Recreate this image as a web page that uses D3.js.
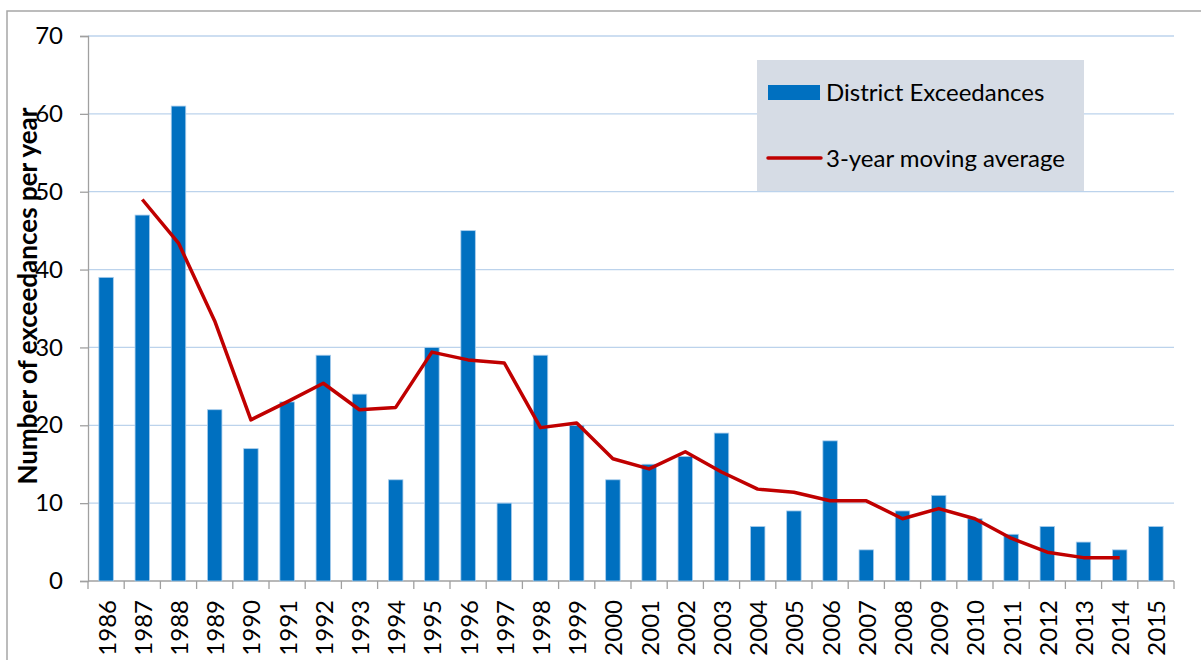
<!DOCTYPE html>
<html>
<head>
<meta charset="utf-8">
<script src="https://cdn.jsdelivr.net/npm/d3@7"></script>
<style>
  body { margin: 0; background: #fff; }
  text { font-family: Lato, "Open Sans", sans-serif; fill: #000; }
</style>
</head>
<body>
<div class="chart"></div>
<script>
// data
var years = ['1986','1987','1988','1989','1990','1991','1992','1993','1994','1995',
             '1996','1997','1998','1999','2000','2001','2002','2003','2004','2005',
             '2006','2007','2008','2009','2010','2011','2012','2013','2014','2015']
var exceedances = [39, 47, 61, 22, 17, 23, 29, 24, 13, 30,
                   45, 10, 29, 20, 13, 15, 16, 19, 7, 9,
                   18, 4, 9, 11, 8, 6, 7, 5, 4, 7]
// 3-year moving average, first and last year empty
var movingAvg = [null, 49.0, 43.4, 33.4, 20.7, 23.0, 25.4, 22.0, 22.3, 29.4,
                 28.4, 28.0, 19.7, 20.3, 15.7, 14.4, 16.6, 14.0, 11.8, 11.4,
                 10.3, 10.3, 8.0, 9.3, 8.0, 5.5, 3.7, 3.0, 3.0, null]
var yTicks = [0, 10, 20, 30, 40, 50, 60, 70]
var seriesNames = ['District Exceedances', '3-year moving average']

var W = 1201, H = 660
var margin = {top: 36, right: 27, bottom: 79, left: 88},
    width = 1174 - margin.left,
    height = 581 - margin.top

var svg = d3.select('.chart').append('svg')
    .attr('width', W).attr('height', H)

// outer chart frame (right / bottom edges fall outside the picture)
svg.append('rect')
    .attr('x', 7).attr('y', 11)
    .attr('width', 1300).attr('height', 800)
    .attr('fill', 'none').attr('stroke', '#a6a6a6').attr('stroke-width', 1.5)

var g = svg.append('g').attr('transform', 'translate(' + margin.left + ',' + margin.top + ')')

var x = d3.scaleBand().domain(years).range([0, width]).paddingInner(0.6).paddingOuter(0.3)
var y = d3.scaleLinear().domain([0, 70]).range([height, 0])

// gridlines
g.append('g').selectAll('line').data(yTicks.filter(function(d) { return d > 0 }))
  .enter().append('line')
    .attr('x1', 0).attr('x2', width)
    .attr('y1', function(d) { return y(d) }).attr('y2', function(d) { return y(d) })
    .attr('stroke', '#bcd3ec').attr('stroke-width', 1.3)

// y axis
var yAxis = g.append('g')
    .call(d3.axisLeft(y).tickValues(yTicks).tickSize(8).tickPadding(17))
yAxis.select('.domain').attr('stroke', '#a0a0a0').attr('stroke-width', 1.3)
yAxis.selectAll('.tick line').attr('stroke', '#a0a0a0').attr('stroke-width', 1.3)
yAxis.selectAll('text').style('font-size', '24px').attr('font-family', null)

// x axis, ticks between categories
var step = x.step()
var xAxis = g.append('g').attr('transform', 'translate(0,' + height + ')')
xAxis.append('line').attr('x1', 0).attr('x2', width).attr('y1', 0).attr('y2', 0)
    .attr('stroke', '#a0a0a0').attr('stroke-width', 1.3)
xAxis.selectAll('.xt').data(d3.range(years.length + 1)).enter().append('line')
    .attr('x1', function(i) { return i * step }).attr('x2', function(i) { return i * step })
    .attr('y1', 0).attr('y2', 8)
    .attr('stroke', '#a0a0a0').attr('stroke-width', 1.3)
xAxis.selectAll('.xl').data(years).enter().append('text')
    .attr('transform', function(d) {
        return 'translate(' + (x(d) + x.bandwidth() / 2 + 1) + ',19) rotate(-90)' })
    .attr('text-anchor', 'end')
    .attr('dy', '0.35em')
    .style('font-size', '24px')
    .text(function(d) { return d })

// bars
g.append('g').selectAll('rect').data(exceedances).enter().append('rect')
    .attr('x', function(d, i) { return x(years[i]) })
    .attr('y', function(d) { return y(d) })
    .attr('width', x.bandwidth())
    .attr('height', function(d) { return height - y(d) })
    .attr('fill', '#0070c0')
    .attr('stroke', '#a9cdec').attr('stroke-width', 0.8)

// moving average line
var line = d3.line()
    .defined(function(d) { return d != null })
    .x(function(d, i) { return x(years[i]) + x.bandwidth() / 2 })
    .y(function(d) { return y(d) })
g.append('path').datum(movingAvg)
    .attr('fill', 'none').attr('stroke', '#c00000').attr('stroke-width', 3.5)
    .attr('stroke-linejoin', 'round')
    .attr('d', line)

// y axis title
svg.append('text')
    .attr('transform', 'translate(37,296) rotate(-90)')
    .attr('text-anchor', 'middle')
    .style('font-size', '26px').style('font-weight', 'bold')
    .text('Number of exceedances per year')

// legend
var lg = svg.append('g')
lg.append('rect').attr('x', 757).attr('y', 60).attr('width', 327).attr('height', 131)
    .attr('fill', '#d6dce5')
lg.append('rect').attr('x', 768).attr('y', 85).attr('width', 52).attr('height', 15)
    .attr('fill', '#0070c0')
lg.append('line').attr('x1', 768).attr('x2', 821).attr('y1', 158).attr('y2', 158)
    .attr('stroke', '#c00000').attr('stroke-width', 3.5).attr('stroke-linecap', 'round')
lg.selectAll('.lt').data(seriesNames).enter().append('text')
    .attr('x', 826)
    .attr('y', function(d, i) { return i == 0 ? 101 : 167 })
    .style('font-size', '24px')
    .text(function(d) { return d })
</script>
</body>
</html>
